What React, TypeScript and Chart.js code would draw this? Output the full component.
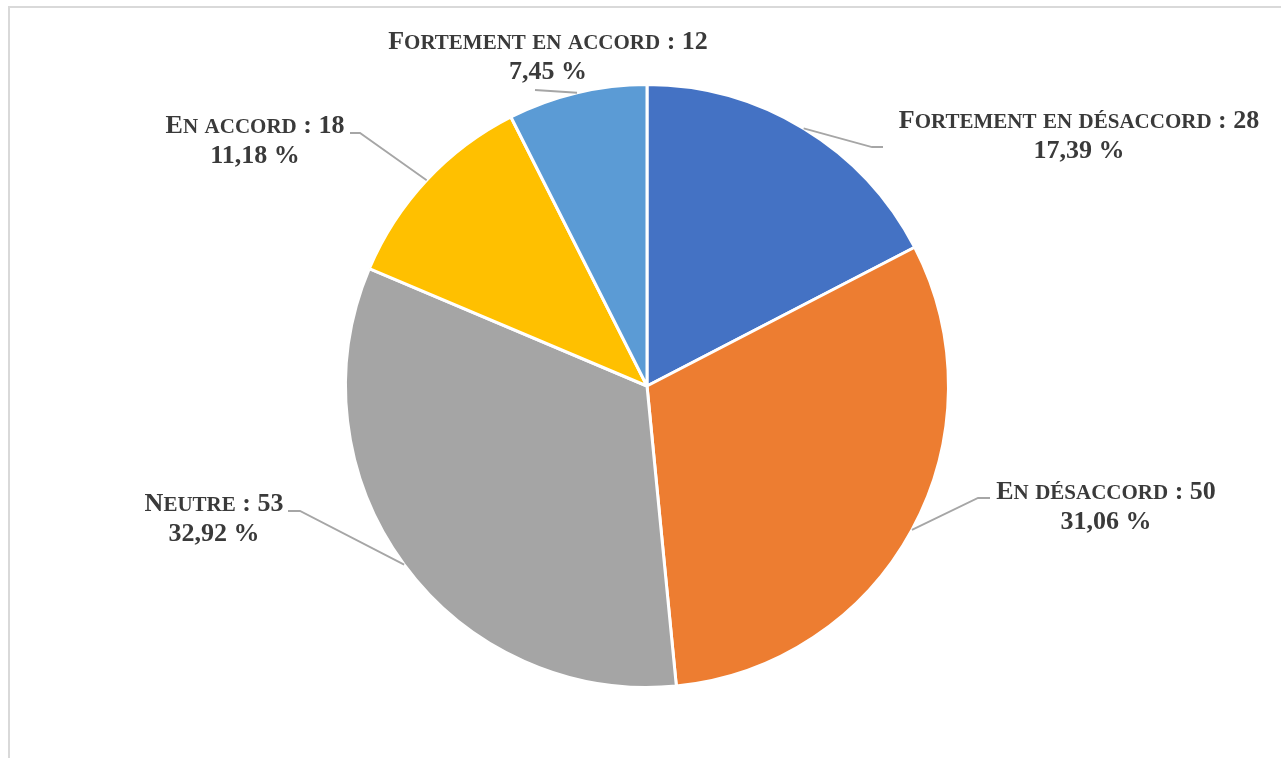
import React, { useEffect, useRef } from "react";
import { Chart, registerables } from "chart.js";

Chart.register(...registerables);

const categories = [
  "Fortement en désaccord",
  "En désaccord",
  "Neutre",
  "En accord",
  "Fortement en accord",
];
const values = [28, 50, 53, 18, 12];
const colors = ["#4472C4", "#ED7D31", "#A5A5A5", "#FFC000", "#5B9BD5"];

// label placement relative to the pie centre (px at a 300px radius)
const labelLayout = [
  { tx: 432, ty: -258, ex: 225, ey: -239, hx: 236 },
  { tx: 459, ty: 113, ex: 331, ey: 112, hx: 343 },
  { tx: -433, ty: 125, ex: -347, ey: 125, hx: -359 },
  { tx: -392, ty: -253, ex: -287, ey: -253, hx: -297 },
  { tx: -99, ty: -337, ex: -112, ey: -296, hx: -112 },
];

const FULL = 26;
const SMALL = 21;
const FAMILY = '"Liberation Serif", "Times New Roman", serif';

function segments(text: string) {
  const segs: { t: string; size: number }[] = [];
  for (const ch of text) {
    const isLower = ch !== ch.toUpperCase();
    const size = isLower ? SMALL : FULL;
    const t = isLower ? ch.toUpperCase() : ch;
    const last = segs[segs.length - 1];
    if (last && last.size === size) last.t += t;
    else segs.push({ t, size });
  }
  return segs;
}

function drawSmallCaps(ctx: CanvasRenderingContext2D, text: string, cx: number, y: number) {
  const segs = segments(text);
  let total = 0;
  const widths: number[] = [];
  for (const s of segs) {
    ctx.font = `bold ${s.size}px ${FAMILY}`;
    const w = ctx.measureText(s.t).width;
    widths.push(w);
    total += w;
  }
  let x = cx - total / 2;
  segs.forEach((s, i) => {
    ctx.font = `bold ${s.size}px ${FAMILY}`;
    ctx.fillText(s.t, x, y);
    x += widths[i];
  });
}

const labelPlugin = {
  id: "pieLabels",
  afterDatasetsDraw(chart: any) {
    const ctx: CanvasRenderingContext2D = chart.ctx;
    const meta = chart.getDatasetMeta(0);
    const data: number[] = chart.data.datasets[0].data;
    const total = data.reduce((a, b) => a + b, 0);
    ctx.save();
    meta.data.forEach((arc: any, i: number) => {
      const p = arc.getProps(["x", "y", "startAngle", "endAngle", "outerRadius"], true);
      const mid = (p.startAngle + p.endAngle) / 2;
      const k = 1;
      const lay = labelLayout[i];
      const sx = p.x + Math.cos(mid) * p.outerRadius;
      const sy = p.y + Math.sin(mid) * p.outerRadius;
      const exx = p.x + lay.ex * k;
      const eyy = p.y + lay.ey * k;
      const hxx = p.x + lay.hx * k;
      ctx.strokeStyle = "#A6A6A6";
      ctx.lineWidth = 1.8;
      ctx.beginPath();
      ctx.moveTo(sx, sy);
      ctx.lineTo(exx, eyy);
      ctx.lineTo(hxx, eyy);
      ctx.stroke();

      ctx.fillStyle = "#3A3A3A";
      ctx.textBaseline = "alphabetic";
      ctx.textAlign = "left";
      const tx = p.x + lay.tx * k;
      const ty = p.y + lay.ty * k;
      drawSmallCaps(ctx, `${chart.data.labels[i]} : ${data[i]}`, tx, ty);
      const pct = ((data[i] / total) * 100).toFixed(2).replace(".", ",") + " %";
      drawSmallCaps(ctx, pct, tx, ty + 30 * k);
    });
    ctx.restore();
  },
};

export default function App() {
  const ref = useRef<HTMLCanvasElement | null>(null);
  useEffect(() => {
    if (!ref.current) return;
    const chart = new Chart(ref.current, {
      type: "pie",
      data: {
        labels: categories,
        datasets: [
          {
            data: values,
            backgroundColor: colors,
            borderColor: "#FFFFFF",
            borderWidth: 3,
          },
        ],
      },
      options: {
        responsive: false,
        animation: false,
        layout: { padding: { left: 344, right: 331, top: 83, bottom: 69 } },
        plugins: {
          legend: { display: false },
          tooltip: { enabled: false },
        },
      },
      plugins: [labelPlugin],
    });
    return () => chart.destroy();
  }, []);

  return (
    <div
      style={{
        position: "fixed",
        left: 0,
        top: 0,
        width: 1281,
        height: 758,
        overflow: "hidden",
        background: "#FFFFFF",
      }}
    >
      <div
        style={{
          position: "absolute",
          left: 8,
          top: 6,
          width: 1400,
          height: 900,
          borderLeft: "2px solid #D9D9D9",
          borderTop: "2px solid #D9D9D9",
        }}
      />
      <canvas
        ref={ref}
        width={1281}
        height={758}
        style={{ position: "absolute", left: 0, top: 0, display: "block" }}
      />
    </div>
  );
}
